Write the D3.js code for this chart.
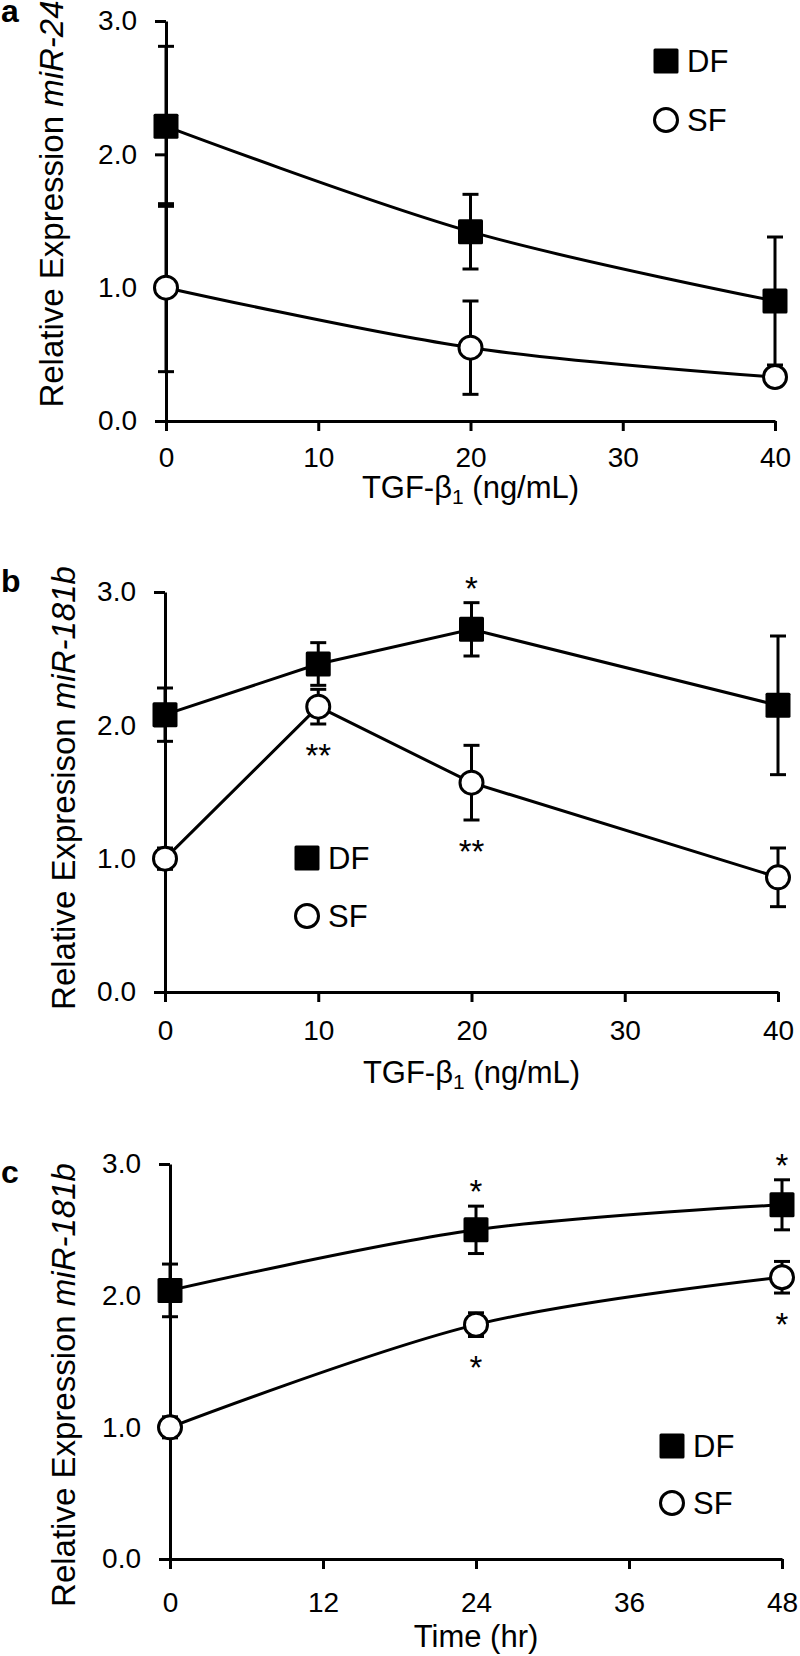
<!DOCTYPE html>
<html>
<head>
<meta charset="utf-8">
<script src="https://cdn.jsdelivr.net/npm/d3@7"></script>
<style>
  html, body { margin: 0; padding: 0; background: #fff; }
  svg { display: block; }
  text { font-family: "Liberation Sans", Arial, Helvetica, sans-serif; fill: #000; }
</style>
</head>
<body>
<svg id="chart" width="800" height="1656"></svg>
<script>
// ---------- DATA ----------
// Panel a: miR-24 vs TGF-beta1 dose
const doseA = [0, 20, 40];
const dfA = [2.21, 1.42, 0.90];
const dfAErr = [0.60, 0.28, 0.48];
const sfA = [1.00, 0.55, 0.33];
const sfAErr = [0.63, 0.35, 0.05];
const xTicksA = [0, 10, 20, 30, 40];

// Panel b: miR-181b vs TGF-beta1 dose
const doseB = [0, 10, 20, 40];
const dfB = [2.08, 2.46, 2.72, 2.15];
const dfBErr = [0.20, 0.16, 0.20, 0.52];
const sfB = [1.00, 2.14, 1.57, 0.86];
const sfBErr = [0.08, 0.13, 0.28, 0.22];
const xTicksB = [0, 10, 20, 30, 40];
const starsB = [ {series: "DF", x: 20, label: "*"}, {series: "SF", x: 10, label: "**"}, {series: "SF", x: 20, label: "**"} ];

// Panel c: miR-181b vs time
const timeC = [0, 24, 48];
const dfC = [2.04, 2.50, 2.69];
const dfCErr = [0.20, 0.18, 0.19];
const sfC = [1.00, 1.78, 2.14];
const sfCErr = [0.08, 0.09, 0.12];
const xTicksC = [0, 12, 24, 36, 48];
const starsC = [ {series: "DF", x: 24, label: "*"}, {series: "SF", x: 24, label: "*"}, {series: "DF", x: 48, label: "*"}, {series: "SF", x: 48, label: "*"} ];

const yTicks = [0, 1, 2, 3];
const seriesNames = ["DF", "SF"];

// ---------- LAYOUT ----------
const panels = [
  { letter: "a", letterY: 22, top: 21, bottom: 421, left: 166, right: 775,
    xDomain: [0, 40], xTicks: xTicksA, x: doseA,
    df: dfA, dfErr: dfAErr, sf: sfA, sfErr: sfAErr, stars: [],
    smooth: true, ylabelPre: "Relative Expression ", ylabelIt: "miR-24",
    ylabelX: 63, ylabelC: 204, tickBase: 467, titleBase: 498, title: "tgf",
    legend: { x: 666, y: 61, gap: 59 } },
  { letter: "b", letterY: 592, top: 592, bottom: 992, left: 165, right: 778,
    xDomain: [0, 40], xTicks: xTicksB, x: doseB,
    df: dfB, dfErr: dfBErr, sf: sfB, sfErr: sfBErr, stars: starsB,
    smooth: false, ylabelPre: "Relative Expresison ", ylabelIt: "miR-181b",
    ylabelX: 75, ylabelC: 788, tickBase: 1040, titleBase: 1083, title: "tgf",
    legend: { x: 307, y: 858, gap: 58 } },
  { letter: "c", letterY: 1183, top: 1164, bottom: 1559, left: 170, right: 782,
    xDomain: [0, 48], xTicks: xTicksC, x: timeC,
    df: dfC, dfErr: dfCErr, sf: sfC, sfErr: sfCErr, stars: starsC,
    smooth: true, ylabelPre: "Relative Expression ", ylabelIt: "miR-181b",
    ylabelX: 75, ylabelC: 1385, tickBase: 1612, titleBase: 1647, title: "time",
    legend: { x: 672, y: 1446, gap: 57 } }
];

const svg = d3.select("#chart");
const SW = 3;          // stroke width
const SQ = 25;         // square marker size
const CR = 11.5;       // circle radius
const CAP = 8;         // half cap width

panels.forEach(p => {
  const g = svg.append("g");
  const xs = d3.scaleLinear().domain(p.xDomain).range([p.left, p.right]);
  const ys = d3.scaleLinear().domain([0, 3]).range([p.bottom, p.top]);

  // y axis
  const yAxis = d3.axisLeft(ys).tickValues(yTicks).tickFormat(d3.format(".1f"))
    .tickSize(11).tickPadding(18).tickSizeOuter(0);
  const ya = g.append("g").attr("transform", `translate(${p.left},0)`).call(yAxis);
  ya.select(".domain").attr("stroke", "#000").attr("stroke-width", SW);
  ya.selectAll(".tick line").attr("stroke", "#000").attr("stroke-width", SW);
  ya.selectAll(".tick text").attr("font-size", 28).attr("font-family", "Liberation Sans, Arial, sans-serif").attr("fill", "#000");

  // x axis
  const xAxis = d3.axisBottom(xs).tickValues(p.xTicks).tickFormat(d3.format("d"))
    .tickSize(10).tickPadding(16).tickSizeOuter(0);
  const xa = g.append("g").attr("transform", `translate(0,${p.bottom})`).call(xAxis);
  xa.select(".domain").attr("stroke", "#000").attr("stroke-width", SW);
  xa.selectAll(".tick line").attr("stroke", "#000").attr("stroke-width", SW);
  xa.selectAll(".tick text").attr("font-size", 28).attr("font-family", "Liberation Sans, Arial, sans-serif")
    .attr("fill", "#000").attr("dy", null).attr("y", p.tickBase - p.bottom);

  // x title
  const cx = (p.left + p.right) / 2;
  const xt = g.append("text").attr("x", cx).attr("y", p.titleBase).attr("text-anchor", "middle").attr("font-size", 31);
  if (p.title === "tgf") {
    xt.append("tspan").text("TGF-β");
    xt.append("tspan").attr("font-size", 21).attr("dy", 6).text("1");
    xt.append("tspan").attr("dy", -6).text(" (ng/mL)");
  } else {
    xt.text("Time (hr)");
  }

  // y title
  const yt = g.append("text").attr("transform", `translate(${p.ylabelX},${p.ylabelC}) rotate(-90)`)
    .attr("text-anchor", "middle").attr("font-size", 33);
  yt.append("tspan").text(p.ylabelPre);
  yt.append("tspan").attr("font-style", "italic").text(p.ylabelIt);

  // panel letter
  g.append("text").attr("x", 1).attr("y", p.letterY).attr("font-size", 32).attr("font-weight", "bold").text(p.letter);

  const curve = p.smooth ? d3.curveCardinal.tension(0) : d3.curveLinear;
  const line = d3.line().x(d => xs(d[0])).y(d => ys(d[1])).curve(curve);

  const drawSeries = (name, vals, errs) => {
    const pts = p.x.map((xv, i) => [xv, vals[i], errs[i]]);
    const sg = g.append("g");
    // error bars
    const eb = sg.selectAll(".eb").data(pts).enter().append("g");
    eb.append("line").attr("x1", d => xs(d[0])).attr("x2", d => xs(d[0]))
      .attr("y1", d => ys(d[1] + d[2])).attr("y2", d => ys(d[1] - d[2]))
      .attr("stroke", "#000").attr("stroke-width", SW);
    eb.append("line").attr("x1", d => xs(d[0]) - CAP).attr("x2", d => xs(d[0]) + CAP)
      .attr("y1", d => ys(d[1] + d[2])).attr("y2", d => ys(d[1] + d[2]))
      .attr("stroke", "#000").attr("stroke-width", SW);
    eb.append("line").attr("x1", d => xs(d[0]) - CAP).attr("x2", d => xs(d[0]) + CAP)
      .attr("y1", d => ys(d[1] - d[2])).attr("y2", d => ys(d[1] - d[2]))
      .attr("stroke", "#000").attr("stroke-width", SW);
    // line
    sg.append("path").datum(pts).attr("d", line).attr("fill", "none").attr("stroke", "#000").attr("stroke-width", SW);
    // markers
    if (name === "DF") {
      sg.selectAll(".m").data(pts).enter().append("rect")
        .attr("x", d => xs(d[0]) - SQ / 2).attr("y", d => ys(d[1]) - SQ / 2)
        .attr("width", SQ).attr("height", SQ).attr("rx", 1.5).attr("fill", "#000");
    } else {
      sg.selectAll(".m").data(pts).enter().append("circle")
        .attr("cx", d => xs(d[0])).attr("cy", d => ys(d[1])).attr("r", CR)
        .attr("fill", "#fff").attr("stroke", "#000").attr("stroke-width", SW);
    }
  };
  drawSeries("SF", p.sf, p.sfErr);
  drawSeries("DF", p.df, p.dfErr);

  // significance stars
  p.stars.forEach(s => {
    const i = p.x.indexOf(s.x);
    const v = s.series === "DF" ? p.df[i] : p.sf[i];
    const e = s.series === "DF" ? p.dfErr[i] : p.sfErr[i];
    const above = s.series === "DF";
    const yy = above ? ys(v + e) - 22 : ys(v - e) + 24;
    g.append("text").attr("x", xs(s.x)).attr("y", yy + 19).attr("text-anchor", "middle")
      .attr("font-size", 33).text(s.label);
  });

  // legend
  const L = p.legend;
  seriesNames.forEach((n, k) => {
    const ly = L.y + k * L.gap;
    if (n === "DF") {
      g.append("rect").attr("x", L.x - SQ / 2).attr("y", ly - SQ / 2).attr("width", SQ).attr("height", SQ)
        .attr("rx", 1.5).attr("fill", "#000");
    } else {
      g.append("circle").attr("cx", L.x).attr("cy", ly).attr("r", CR)
        .attr("fill", "#fff").attr("stroke", "#000").attr("stroke-width", SW);
    }
    g.append("text").attr("x", L.x + 21).attr("y", ly + 11).attr("font-size", 31).text(n);
  });
});
</script>
</body>
</html>
